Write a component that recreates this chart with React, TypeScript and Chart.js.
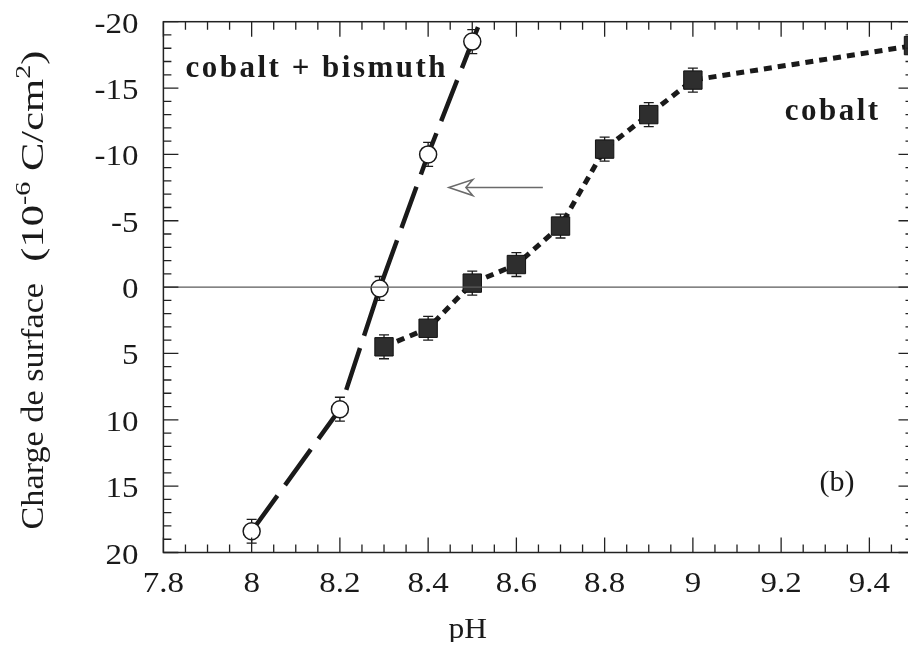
import React, { useEffect, useRef } from "react";
import { Chart, registerables } from "chart.js";

Chart.register(...registerables);

// ---- data ----
const cobaltPH = [8.3, 8.4, 8.5, 8.6, 8.7, 8.8, 8.9, 9.0, 9.5];
const cobaltCharge = [4.5, 3.1, -0.3, -1.7, -4.6, -10.4, -13.0, -15.6, -18.2];
const cobaltErr = [0.9, 0.9, 0.9, 0.9, 0.9, 0.9, 0.9, 0.9, 0.9];

const bismuthPH = [8.0, 8.2, 8.29, 8.4, 8.5];
const bismuthCharge = [18.4, 9.2, 0.1, -10.0, -18.5];
const bismuthErr = [0.9, 0.9, 0.9, 0.9, 0.9];
// the dashed line continues past the last point up to the top of the frame
const bismuthLineEndPH = [8.525];
const bismuthLineEndCharge = [-20.6];

const xTickValues = [7.8, 8, 8.2, 8.4, 8.6, 8.8, 9, 9.2, 9.4];
const xTickLabels = ["7.8", "8", "8.2", "8.4", "8.6", "8.8", "9", "9.2", "9.4"];
const yTickValues = [-20, -15, -10, -5, 0, 5, 10, 15, 20];
const yTickLabels = ["-20", "-15", "-10", "-5", "0", "5", "10", "15", "20"];

const arrowFromPH = 8.66;
const arrowToPH = 8.447;
const arrowCharge = -7.5;

const SERIF = '"Liberation Serif", "Times New Roman", serif';

function drawStretched(
  ctx: CanvasRenderingContext2D,
  text: string,
  x: number,
  y: number,
  align: "left" | "center" | "right",
  sx: number
) {
  const w = ctx.measureText(text).width * sx;
  const left = align === "left" ? x : align === "center" ? x - w / 2 : x - w;
  ctx.save();
  ctx.translate(left, y);
  ctx.scale(sx, 1);
  ctx.textAlign = "left";
  ctx.fillText(text, 0, 0);
  ctx.restore();
}

const errorBarPlugin = {
  id: "errorBars",
  beforeDatasetsDraw(chart: any) {
    const { ctx, scales } = chart;
    const x = scales.x;
    const y = scales.y;
    ctx.save();
    ctx.strokeStyle = "#1a1a1a";
    ctx.lineWidth = 1.3;
    const draw = (xs: number[], ys: number[], es: number[]) => {
      xs.forEach((xv, i) => {
        const px = x.getPixelForValue(xv);
        const pTop = y.getPixelForValue(ys[i] - es[i]);
        const pBot = y.getPixelForValue(ys[i] + es[i]);
        const cap = 5;
        ctx.beginPath();
        ctx.moveTo(px, pTop);
        ctx.lineTo(px, pBot);
        ctx.moveTo(px - cap, pTop);
        ctx.lineTo(px + cap, pTop);
        ctx.moveTo(px - cap, pBot);
        ctx.lineTo(px + cap, pBot);
        ctx.stroke();
      });
    };
    draw(cobaltPH, cobaltCharge, cobaltErr);
    draw(bismuthPH, bismuthCharge, bismuthErr);
    ctx.restore();
  },
  afterDatasetsDraw(chart: any) {
    const { ctx, chartArea: a, scales } = chart;
    const x = scales.x;
    const y = scales.y;
    ctx.save();
    // zero line
    const y0 = y.getPixelForValue(0);
    ctx.strokeStyle = "#5a5a5a";
    ctx.lineWidth = 1.2;
    ctx.beginPath();
    ctx.moveTo(a.left, y0);
    ctx.lineTo(a.right, y0);
    ctx.stroke();

    // arrow
    const ay = y.getPixelForValue(arrowCharge);
    const tip = x.getPixelForValue(arrowToPH);
    const tail = x.getPixelForValue(arrowFromPH);
    ctx.strokeStyle = "#6a6a6a";
    ctx.lineWidth = 1.5;
    ctx.beginPath();
    ctx.moveTo(tip + 17, ay);
    ctx.lineTo(tail, ay);
    ctx.stroke();
    ctx.beginPath();
    ctx.moveTo(tip, ay);
    ctx.lineTo(tip + 24, ay - 8);
    ctx.lineTo(tip + 17, ay);
    ctx.lineTo(tip + 24, ay + 8);
    ctx.closePath();
    ctx.fillStyle = "#ffffff";
    ctx.fill();
    ctx.stroke();
    ctx.restore();
  },
  afterDraw(chart: any) {
    const { ctx, chartArea: a, scales } = chart;
    const x = scales.x;
    const y = scales.y;
    ctx.save();
    // frame
    ctx.strokeStyle = "#222";
    ctx.lineWidth = 1.5;
    ctx.strokeRect(a.left, a.top, a.right - a.left, a.bottom - a.top);

    // ticks (inward, all four sides)
    ctx.lineWidth = 1.3;
    ctx.beginPath();
    const major = 15;
    const minor = 8;
    for (let k = 0; k <= 34; k++) {
      const v = 7.8 + k * 0.05;
      const px = x.getPixelForValue(v);
      const len = k % 4 === 0 ? major : minor;
      ctx.moveTo(px, a.bottom);
      ctx.lineTo(px, a.bottom - len);
      ctx.moveTo(px, a.top);
      ctx.lineTo(px, a.top + len);
    }
    for (let k = -20; k <= 20; k++) {
      const py = y.getPixelForValue(k);
      const len = k % 5 === 0 ? major : minor;
      ctx.moveTo(a.left, py);
      ctx.lineTo(a.left + len, py);
      ctx.moveTo(a.right, py);
      ctx.lineTo(a.right - len, py);
    }
    ctx.stroke();

    // tick labels
    ctx.fillStyle = "#1a1a1a";
    ctx.font = `30px ${SERIF}`;
    ctx.textBaseline = "alphabetic";
    xTickValues.forEach((v, i) => {
      drawStretched(ctx, xTickLabels[i], x.getPixelForValue(v), a.bottom + 39.5, "center", 1.1);
    });
    yTickValues.forEach((v, i) => {
      drawStretched(ctx, yTickLabels[i], a.left - 25, y.getPixelForValue(v) + 11, "right", 1.1);
    });

    // x title
    ctx.font = `30px ${SERIF}`;
    drawStretched(ctx, "pH", x.getPixelForValue(8.49), a.bottom + 85, "center", 1.05);

    // y title with superscripts
    const parts = [
      { t: "Charge de surface", sup: false, s: 1.07 },
      { t: "  (10", sup: false, s: 1.33 },
      { t: "-6", sup: true, s: 1.33 },
      { t: " C/cm", sup: false, s: 1.33 },
      { t: "2", sup: true, s: 1.33 },
      { t: ")", sup: false, s: 1.33 },
    ];
    const baseFont = `32px ${SERIF}`;
    const supFont = `21px ${SERIF}`;
    let total = 0;
    const widths = parts.map((p) => {
      ctx.font = p.sup ? supFont : baseFont;
      const w = ctx.measureText(p.t).width * p.s;
      total += w;
      return w;
    });
    ctx.save();
    ctx.translate(a.left - 120, (a.top + a.bottom) / 2 + 3);
    ctx.rotate(-Math.PI / 2);
    let pos = -total / 2;
    parts.forEach((p, i) => {
      ctx.font = p.sup ? supFont : baseFont;
      ctx.save();
      ctx.translate(pos, p.sup ? -13 : 0);
      ctx.scale(p.s, 1);
      ctx.textAlign = "left";
      ctx.fillText(p.t, 0, 0);
      ctx.restore();
      pos += widths[i];
    });
    ctx.restore();

    // annotations
    ctx.fillStyle = "#1a1a1a";
    ctx.font = `bold 31px ${SERIF}`;
    (ctx as any).letterSpacing = "2.5px";
    ctx.textAlign = "left";
    ctx.fillText("cobalt + bismuth", x.getPixelForValue(7.85), y.getPixelForValue(-15.8));
    ctx.fillText("cobalt", x.getPixelForValue(9.208), y.getPixelForValue(-12.6));
    (ctx as any).letterSpacing = "0px";
    ctx.font = `30px ${SERIF}`;
    ctx.fillText("(b)", x.getPixelForValue(9.287), y.getPixelForValue(15.4));
    ctx.restore();
  },
};

export default function App() {
  const ref = useRef<HTMLCanvasElement | null>(null);
  useEffect(() => {
    document.documentElement.style.overflow = "hidden";
    document.body.style.overflow = "hidden";
    if (!ref.current) return;
    const toXY = (xs: number[], ys: number[]) => xs.map((v, i) => ({ x: v, y: ys[i] }));
    const chart = new Chart(ref.current, {
      type: "line",
      data: {
        datasets: [
          {
            label: "cobalt + bismuth (points)",
            data: toXY(bismuthPH, bismuthCharge),
            showLine: false,
            pointStyle: "circle",
            pointRadius: 8.5,
            pointBackgroundColor: "#ffffff",
            pointBorderColor: "#1a1a1a",
            pointBorderWidth: 1.5,
            order: 1,
          },
          {
            label: "cobalt",
            data: toXY(cobaltPH, cobaltCharge),
            borderColor: "#1a1a1a",
            borderWidth: 5,
            borderDash: [8, 6],
            pointStyle: "rect",
            pointRadius: 13,
            pointBackgroundColor: "#2e2e2e",
            pointBorderColor: "#111",
            pointBorderWidth: 1,
            clip: false,
            order: 2,
          } as any,
          {
            label: "cobalt + bismuth (line)",
            data: toXY(bismuthPH.concat(bismuthLineEndPH), bismuthCharge.concat(bismuthLineEndCharge)),
            borderColor: "#1a1a1a",
            borderWidth: 4.5,
            borderDash: [44, 13],
            pointRadius: 0,
            order: 3,
          },
        ],
      },
      options: {
        animation: false,
        responsive: false,
        events: [],
        layout: { autoPadding: false, padding: { left: 155.4, top: 13.7, right: 2.5, bottom: 89.5 } },
        plugins: { legend: { display: false }, tooltip: { enabled: false } },
        scales: {
          x: { type: "linear", min: 7.8, max: 9.5, display: false },
          y: { type: "linear", min: -20, max: 20, reverse: true, display: false },
        },
      },
      plugins: [errorBarPlugin],
    });
    return () => chart.destroy();
  }, []);
  return (
    <div style={{ width: 900, height: 634, overflow: "visible" }}>
      <canvas ref={ref} width={908} height={634} style={{ display: "block" }} />
    </div>
  );
}
